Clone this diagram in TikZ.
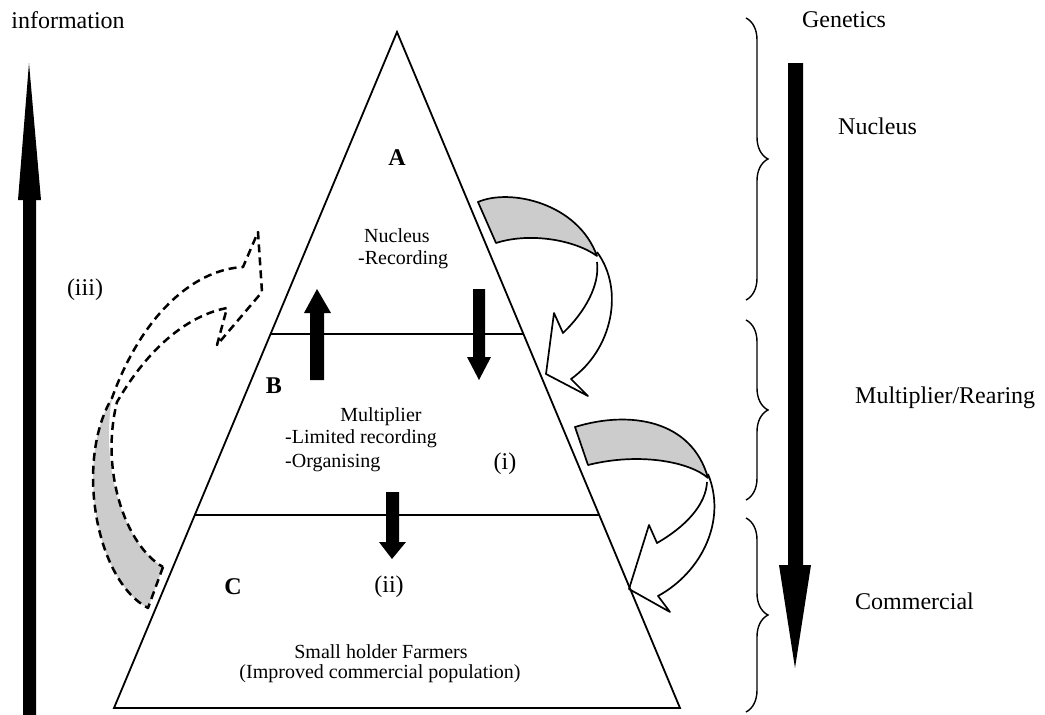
\documentclass[tikz,border=0pt]{standalone}
\usepackage{fontspec}
\setmainfont{Liberation Serif}
\usetikzlibrary{decorations.pathreplacing}
\begin{document}
\begin{tikzpicture}[x=1pt,y=-1pt,
  edge/.style={draw=black,line width=1.8pt,line join=miter},
  blockarrow/.style={fill=black,draw=none},
  band/.style={fill=black!20,draw=none},
  twist/.style={draw=black,line width=1.7pt,line join=round},
  dashtwist/.style={draw=black,line width=2.5pt,dash pattern=on 8pt off 5pt,line join=round},
  bracket/.style={draw=black,line width=1.4pt,decorate,decoration={brace,amplitude=22pt,aspect=0.5}},
  smalltext/.style={font=\fontsize{20}{24}\selectfont,inner sep=0pt},
  bigtext/.style={font=\fontsize{24}{28}\selectfont,inner sep=0pt},
  letter/.style={font=\fontsize{24}{28}\selectfont\bfseries,inner sep=0pt}]
\useasboundingbox (0,0) rectangle (1045,715);

% pyramid and its two dividing lines
\coordinate (apex) at (397,32);
\coordinate (bl) at (114,708);
\coordinate (br) at (680,708);
\draw[edge] (apex) -- (bl) -- (br) -- cycle;
\draw[edge] (270.6,334) -- (523.4,334);
\draw[edge] (195,515) -- (599,515);

% information arrow (upwards, left)
\path[blockarrow] (23,715) -- (23,200) -- (18,200) -- (29,63) -- (41,200) -- (36,200) -- (36,715) -- cycle;

% genetics arrow (downwards, right)
\path[blockarrow] (788,63) -- (803,63) -- (803,565) -- (811,565) -- (795,668) -- (779,565) -- (788,565) -- cycle;

% braces on the right
\draw[bracket] (746,18) -- (746,300);
\draw[bracket] (746,320) -- (746,500);
\draw[bracket] (746,518) -- (746,712);

% small block arrows inside the pyramid
\path[blockarrow] (310,380) -- (310,313) -- (304,313) -- (317,289) -- (331,313) -- (324,313) -- (324,380) -- cycle;
\path[blockarrow] (473,289) -- (485,289) -- (485,357) -- (491,357) -- (479,380) -- (467,357) -- (473,357) -- cycle;
\path[blockarrow] (386,492) -- (399,492) -- (399,542) -- (406,542) -- (392,559) -- (379,542) -- (386,542) -- cycle;

% twisted arrow from A to B
\path[band] (478,202) .. controls (510,188) and (578,203) .. (597,256)
  .. controls (575,240) and (530,232) .. (496,243) -- cycle;
\draw[twist] (478,202) .. controls (510,188) and (578,203) .. (597,256)
  .. controls (575,240) and (530,232) .. (496,243) -- cycle;
\draw[twist] (597,252) .. controls (625,290) and (612,350) .. (571,379)
  -- (588,396) -- (546,374) -- (554,313) -- (563,333)
  .. controls (585,312) and (600,285) .. (597,262);

% twisted arrow from B to C
\path[band] (575,427) .. controls (630,410) and (692,420) .. (708,478)
  .. controls (690,462) and (640,452) .. (588,465) -- cycle;
\draw[twist] (575,427) .. controls (630,410) and (692,420) .. (708,478)
  .. controls (690,462) and (640,452) .. (588,465) -- cycle;
\draw[twist] (708,474) .. controls (727,520) and (702,572) .. (658,596)
  -- (670,612) -- (629,589) -- (649,525) -- (657,543)
  .. controls (685,527) and (706,505) .. (707,482);

% dashed twisted arrow (iii)
\path[band] (163,567) -- (148,608) .. controls (95,580) and (75,460) .. (112,398)
  .. controls (100,470) and (125,545) .. (163,567) -- cycle;
\draw[dashtwist] (163,567) -- (148,608) .. controls (95,580) and (75,460) .. (112,398)
  .. controls (140,320) and (190,270) .. (243,267)
  -- (258,232) -- (262,292) -- (217,345) -- (227,308)
  .. controls (190,315) and (150,345) .. (117,402)
  .. controls (100,470) and (125,545) .. (163,567);

% labels
\node[bigtext] (info) at (68,20) {information};
\node[bigtext] (gen) at (844,20) {Genetics};
\node[bigtext,anchor=west] (lnuc) at (838,126) {Nucleus};
\node[bigtext,anchor=west] (lmul) at (855,398) {Multiplier/Rearing};
\node[bigtext,anchor=west] (lcom) at (855,601) {Commercial};

\node[letter] (la) at (397,158) {A};
\node[letter] (lb) at (274,386) {B};
\node[letter] (lc) at (233,587) {C};

\node[smalltext] (tnuc) at (397,236) {Nucleus};
\node[smalltext,anchor=west] (trec) at (358,260) {-Recording};
\node[smalltext] (tmul) at (381,417) {Multiplier};
\node[smalltext,anchor=west] (tlim) at (285,439) {-Limited recording};
\node[smalltext,anchor=west] (torg) at (285,463) {-Organising};
\node[bigtext] (ti) at (505,464) {(i)};
\node[bigtext] (tii) at (389,587) {(ii)};
\node[bigtext] (tiii) at (85,290) {(iii)};
\node[smalltext] (tsmall) at (381,652) {Small holder Farmers};
\node[smalltext] (timp) at (380,674) {(Improved commercial population)};
\end{tikzpicture}
\end{document}
